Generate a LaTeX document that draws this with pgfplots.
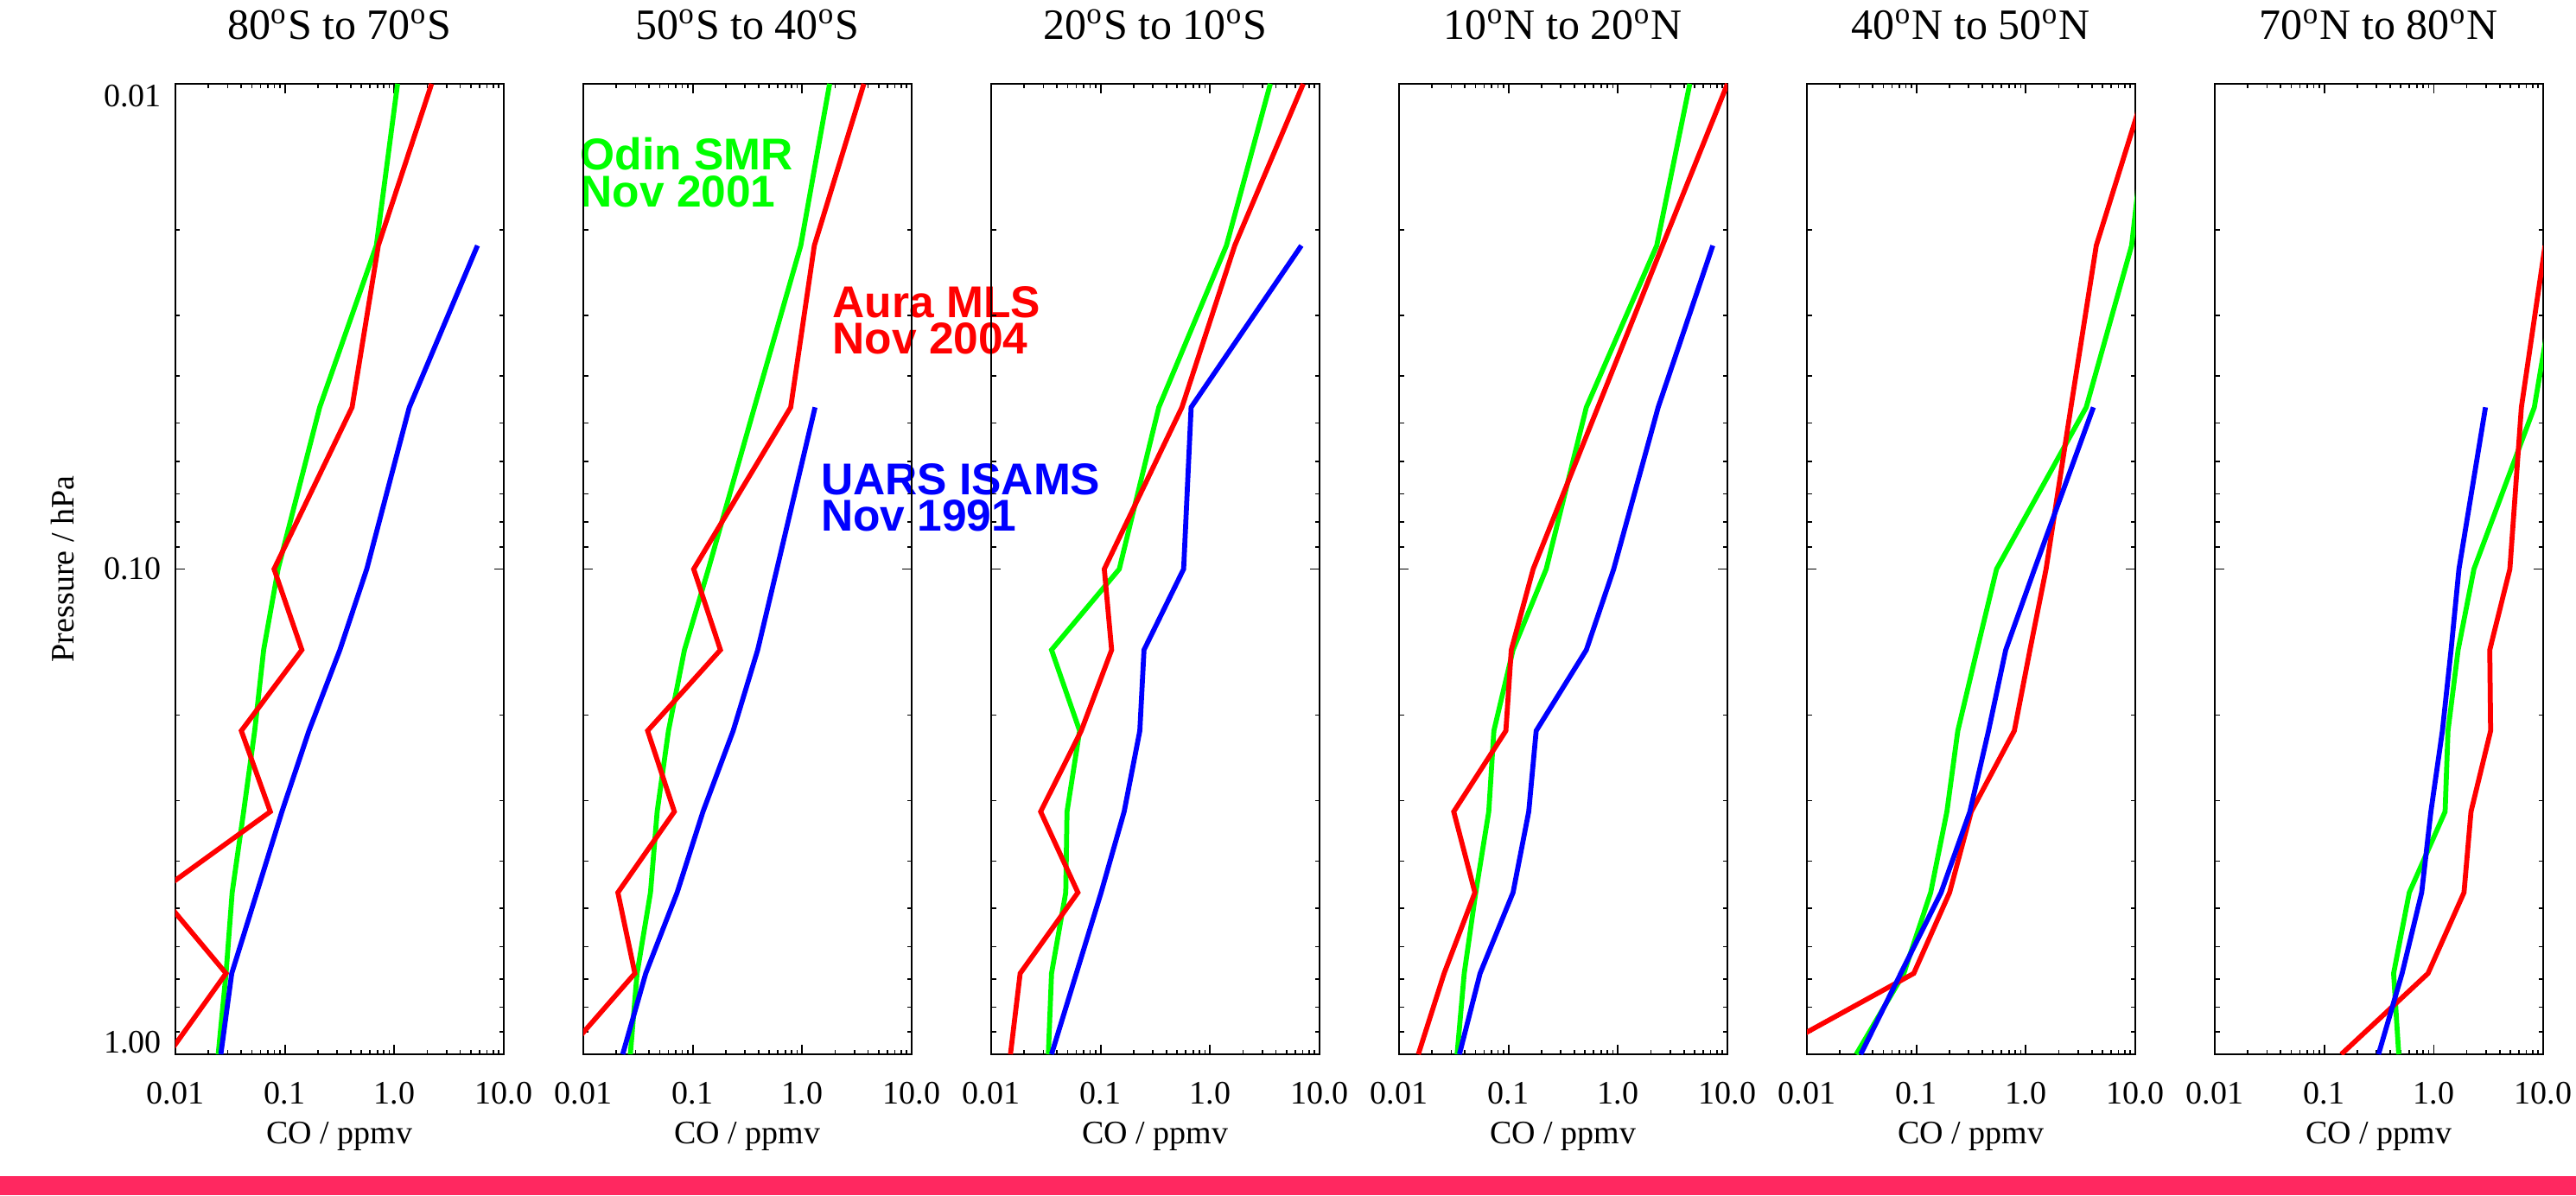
\documentclass[border=0pt]{standalone}
\usepackage{fontspec}
\setmainfont{Liberation Serif}
\newfontfamily\annotfont{Liberation Sans}
\usepackage{pgfplots}
\pgfplotsset{compat=1.18}
\definecolor{pinkbar}{RGB}{255,40,96}
\definecolor{lgreen}{RGB}{0,255,0}
\definecolor{lred}{RGB}{255,0,0}
\definecolor{lblue}{RGB}{0,0,255}
\newcommand{\lblfont}{\fontsize{7.6}{9}\selectfont}
\newcommand{\annfont}{\annotfont\bfseries\fontsize{10.3}{8.5}\selectfont}
\pgfplotsset{every axis/.append style={
  scale only axis, width=76pt, height=224.6pt, anchor=south west,
  xmin=0.01, xmax=10, ymin=0.01, ymax=1, y dir=reverse,
  xtick={0.01,0.1,1,10}, xticklabels={0.01,0.1,1.0,10.0},
  minor xtick={0.02,0.03,0.04,0.05,0.06,0.07,0.08,0.09,0.2,0.3,0.4,0.5,0.6,0.7,0.8,0.9,2,3,4,5,6,7,8,9},
  ytick={0.01,0.1,1}, yticklabels={},
  minor ytick={0.02,0.03,0.04,0.05,0.06,0.07,0.08,0.09,0.2,0.3,0.4,0.5,0.6,0.7,0.8,0.9},
  tick align=inside, xtick pos=both, ytick pos=both, xticklabel pos=lower,
  major tick length=2.2pt, minor tick length=1.1pt,
  axis line style={line width=0.45pt},
  every tick/.style={black, line width=0.35pt},
  xticklabel style={font=\lblfont, anchor=north, inner sep=0pt, yshift=-6.2pt},
  title style={font=\fontsize{10}{12}\selectfont, at={(0.5,1)}, anchor=base, yshift=4.2pt, inner sep=0pt},
  xlabel={CO / ppmv},
  xlabel style={font=\lblfont, at={(axis description cs:0.5,0)}, anchor=north, inner sep=0pt, yshift=-15.5pt},
  every axis plot/.append style={line width=1.15pt, no marks},
}}
\begin{document}
\begin{tikzpicture}
\useasboundingbox (0,0) rectangle (596.2pt,276.6pt);
\fill[white] (0,0) rectangle (596.2pt,276.6pt);
\fill[pinkbar] (0,0) rectangle (596.2pt,4.4pt);

% annotations
\node[anchor=north west, inner sep=0pt, align=left, text=lgreen, font=\annfont] at (134.1pt,244.9pt) {Odin SMR\\Nov 2001};
\node[anchor=north west, inner sep=0pt, align=left, text=lred, font=\annfont] at (192.5pt,210.5pt) {Aura MLS\\Nov 2004};
\node[anchor=north west, inner sep=0pt, align=left, text=lblue, font=\annfont] at (189.8pt,169.5pt) {UARS ISAMS\\Nov 1991};

% Panel 1
\begin{loglogaxis}[at={(40.6pt,32.6pt)}, title={80\textsuperscript{o}S to 70\textsuperscript{o}S}]
\addplot[lgreen] coordinates {(1.07,0.01) (0.685,0.021544) (0.208,0.046416) (0.0867,0.1) (0.064,0.14678) (0.053,0.21544) (0.042,0.31623) (0.033,0.46416) (0.029,0.68129) (0.0246,1)};
\addplot[lred] coordinates {(2.19,0.01) (0.714,0.021544) (0.411,0.046416) (0.0797,0.1) (0.143,0.14678) (0.040,0.21544) (0.0736,0.31623) (0.007,0.46416) (0.029,0.68129) (0.0086,1)};
\addplot[lblue] coordinates {(5.75,0.021544) (1.37,0.046416) (0.56,0.1) (0.318,0.14678) (0.166,0.21544) (0.094,0.31623) (0.0555,0.46416) (0.0327,0.68129) (0.026,1)};
\end{loglogaxis}

% Panel 2
\begin{loglogaxis}[at={(135.0pt,32.6pt)}, title={50\textsuperscript{o}S to 40\textsuperscript{o}S}]
\addplot[lgreen] coordinates {(1.78,0.01) (0.97,0.021544) (0.366,0.046416) (0.139,0.1) (0.084,0.14678) (0.060,0.21544) (0.0473,0.31623) (0.0411,0.46416) (0.031,0.68129) (0.0269,1)};
\addplot[lred] coordinates {(3.66,0.01) (1.29,0.021544) (0.785,0.046416) (0.102,0.1) (0.179,0.14678) (0.0387,0.21544) (0.0679,0.31623) (0.0207,0.46416) (0.0296,0.68129) (0.0067,1)};
\addplot[lblue] coordinates {(1.31,0.046416) (0.587,0.1) (0.392,0.14678) (0.234,0.21544) (0.124,0.31623) (0.072,0.46416) (0.0372,0.68129) (0.0229,1)};
\end{loglogaxis}

% Panel 3
\begin{loglogaxis}[at={(229.4pt,32.6pt)}, title={20\textsuperscript{o}S to 10\textsuperscript{o}S}]
\addplot[lgreen] coordinates {(3.55,0.01) (1.41,0.021544) (0.34,0.046416) (0.148,0.1) (0.0356,0.14678) (0.0643,0.21544) (0.0493,0.31623) (0.048,0.46416) (0.0356,0.68129) (0.0333,1)};
\addplot[lred] coordinates {(7.1,0.01) (1.68,0.021544) (0.553,0.046416) (0.108,0.1) (0.126,0.14678) (0.0665,0.21544) (0.0283,0.31623) (0.062,0.46416) (0.0184,0.68129) (0.015,1)};
\addplot[lblue] coordinates {(6.82,0.021544) (0.671,0.046416) (0.573,0.1) (0.249,0.14678) (0.228,0.21544) (0.164,0.31623) (0.101,0.46416) (0.06,0.68129) (0.0356,1)};
\end{loglogaxis}

% Panel 4
\begin{loglogaxis}[at={(323.8pt,32.6pt)}, title={10\textsuperscript{o}N to 20\textsuperscript{o}N}]
\addplot[lgreen] coordinates {(4.53,0.01) (2.26,0.021544) (0.514,0.046416) (0.221,0.1) (0.110,0.14678) (0.0735,0.21544) (0.066,0.31623) (0.0502,0.46416) (0.0394,0.68129) (0.0339,1)};
\addplot[lred] coordinates {(10,0.01) (2.55,0.021544) (0.655,0.046416) (0.168,0.1) (0.106,0.14678) (0.0946,0.21544) (0.0316,0.31623) (0.0493,0.46416) (0.0258,0.68129) (0.015,1)};
\addplot[lblue] coordinates {(7.35,0.021544) (2.33,0.046416) (0.914,0.1) (0.514,0.14678) (0.179,0.21544) (0.153,0.31623) (0.110,0.46416) (0.055,0.68129) (0.0356,1)};
\end{loglogaxis}

% Panel 5
\begin{loglogaxis}[at={(418.2pt,32.6pt)}, title={40\textsuperscript{o}N to 50\textsuperscript{o}N}]
\addplot[lgreen] coordinates {(13.6,0.01) (9.25,0.021544) (3.56,0.046416) (0.54,0.1) (0.358,0.14678) (0.239,0.21544) (0.19,0.31623) (0.135,0.46416) (0.0768,0.68129) (0.0282,1)};
\addplot[lred] coordinates {(12.7,0.01) (4.4,0.021544) (2.58,0.046416) (1.53,0.1) (1.09,0.14678) (0.785,0.21544) (0.317,0.31623) (0.201,0.46416) (0.0946,0.68129) (0.0043,1)};
\addplot[lblue] coordinates {(4.14,0.046416) (1.2,0.1) (0.655,0.14678) (0.456,0.21544) (0.308,0.31623) (0.168,0.46416) (0.072,0.68129) (0.031,1)};
\end{loglogaxis}

% Panel 6
\begin{loglogaxis}[at={(512.6pt,32.6pt)}, title={70\textsuperscript{o}N to 80\textsuperscript{o}N}]
\addplot[lgreen] coordinates {(25,0.01) (14.7,0.021544) (8.3,0.046416) (2.33,0.1) (1.67,0.14678) (1.35,0.21544) (1.27,0.31623) (0.598,0.46416) (0.43,0.68129) (0.479,1)};
\addplot[lred] coordinates {(10.4,0.021544) (6.32,0.046416) (4.96,0.1) (3.25,0.14678) (3.31,0.21544) (2.19,0.31623) (1.89,0.46416) (0.887,0.68129) (0.143,1)};
\addplot[lblue] coordinates {(2.97,0.046416) (1.70,0.1) (1.44,0.14678) (1.2,0.21544) (0.942,0.31623) (0.776,0.46416) (0.514,0.68129) (0.313,1)};
\end{loglogaxis}

% y tick labels and y label (first panel)
\node[anchor=north east, inner sep=0pt, font=\lblfont] at (37.5pt,257.2pt) {0.01};
\node[anchor=east, inner sep=0pt, font=\lblfont] at (37.5pt,144.9pt) {0.10};
\node[anchor=south east, inner sep=0pt, font=\lblfont] at (37.5pt,32.6pt) {1.00};
\node[rotate=90, inner sep=0pt, font=\lblfont] at (14.4pt,144.9pt) {Pressure / hPa};
\end{tikzpicture}
\end{document}
